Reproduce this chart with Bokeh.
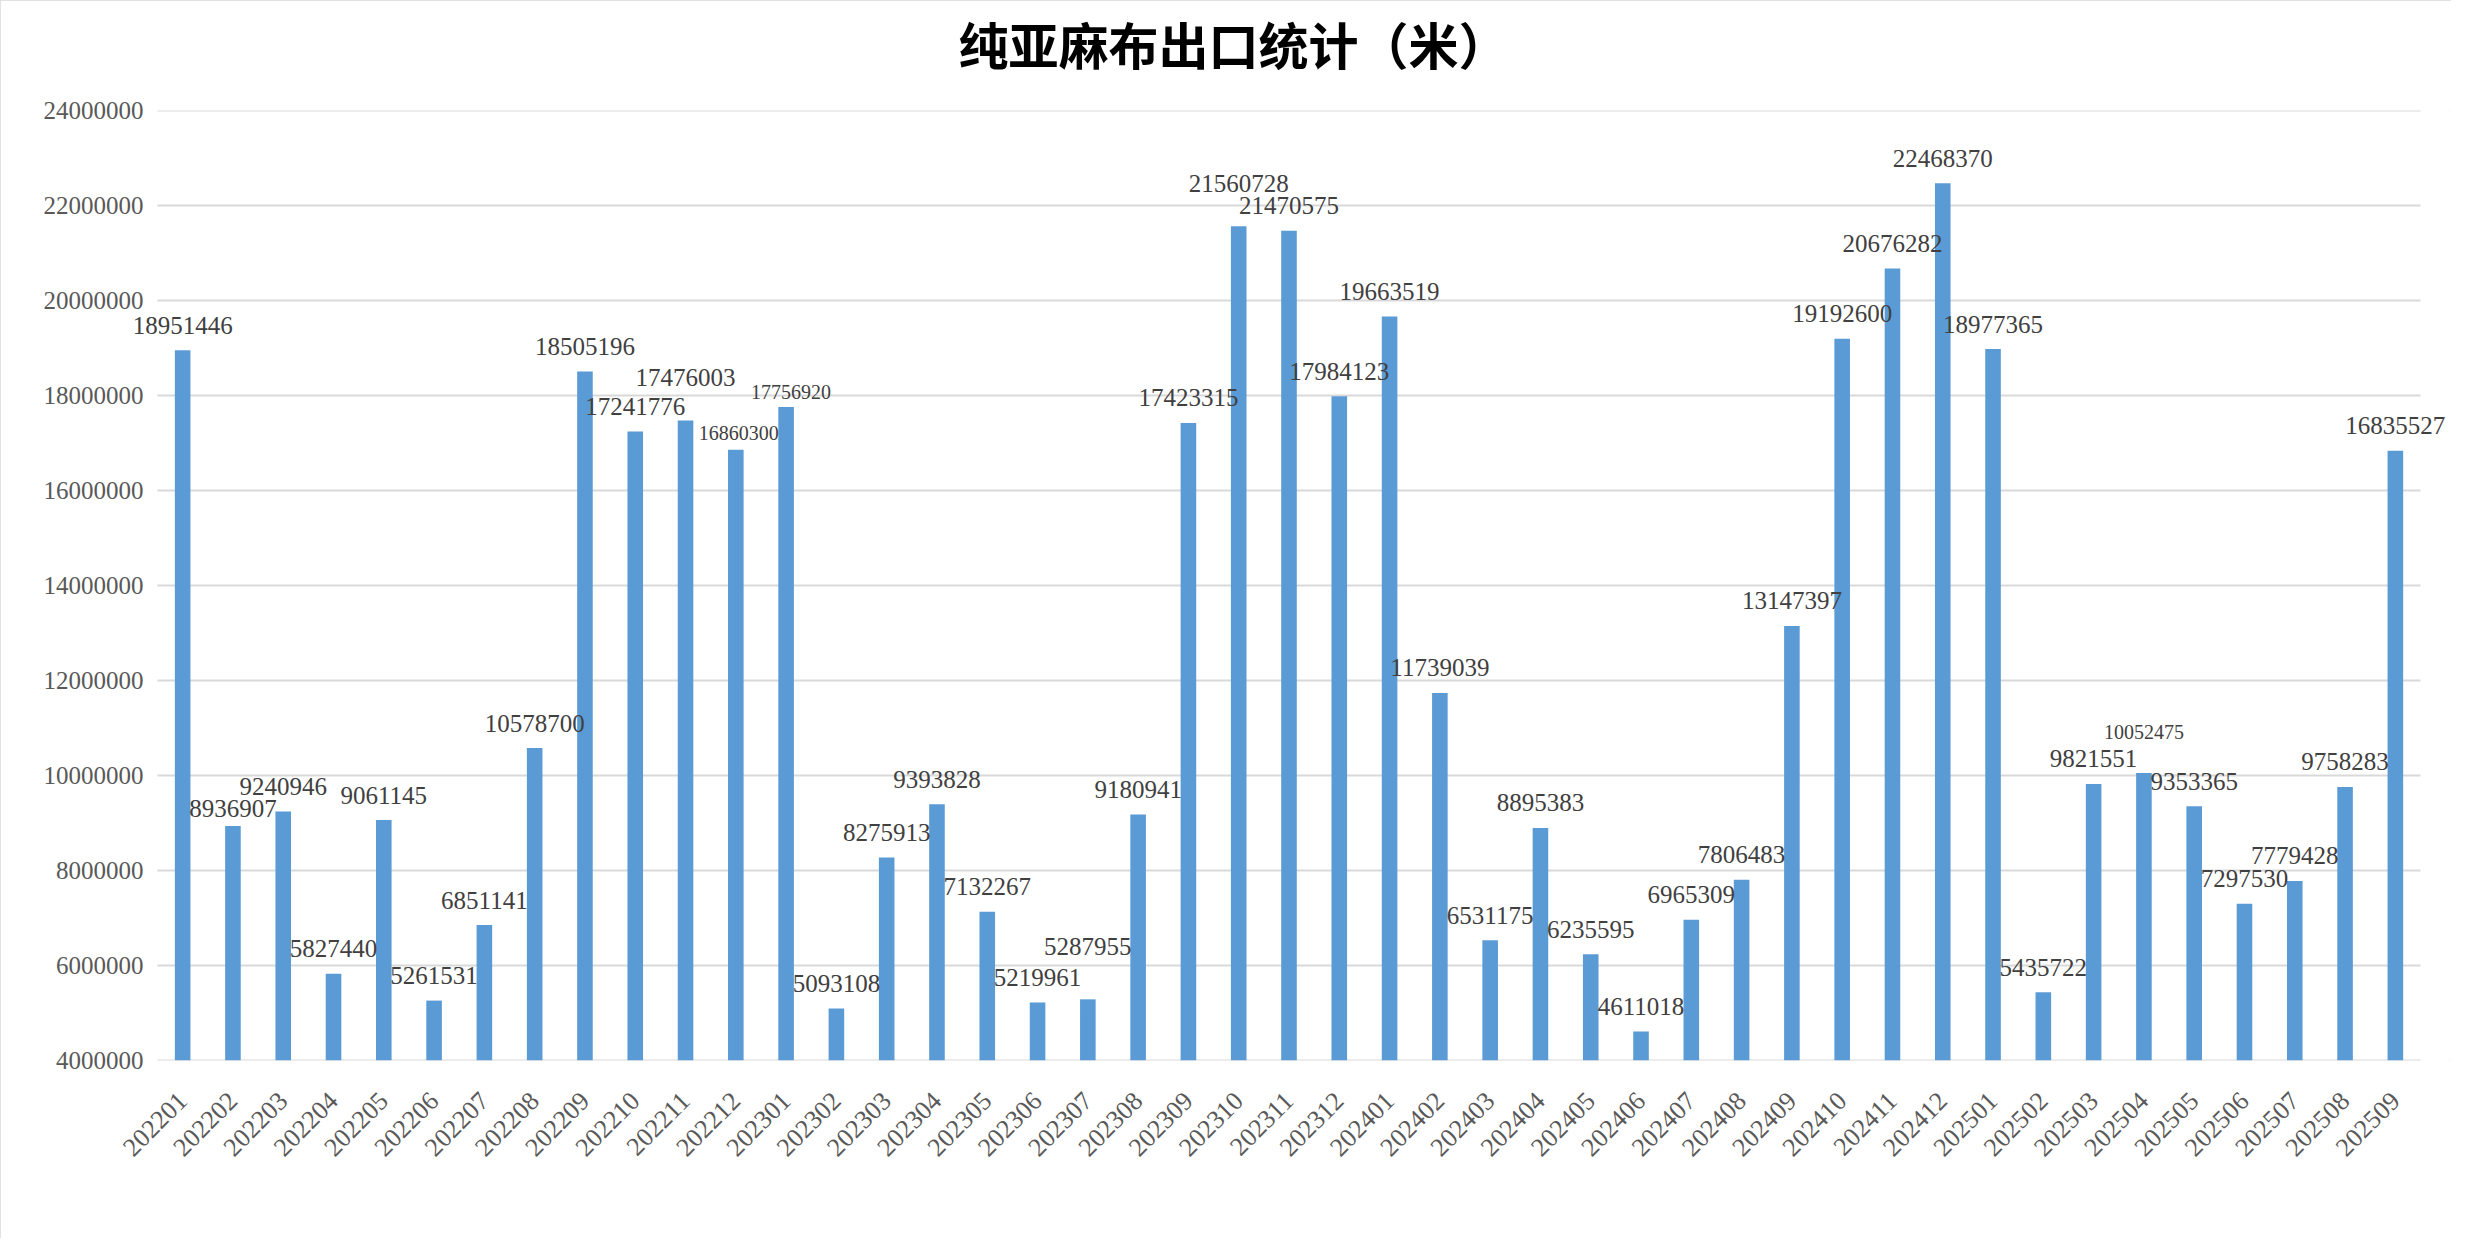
import math
from bokeh.plotting import figure
from bokeh.models import (ColumnDataSource, Range1d, FactorRange, FixedTicker,
                          NumeralTickFormatter, Title)
from bokeh.core.properties import value
from bokeh.embed import file_html
from bokeh.resources import INLINE

# ---------------- data ----------------
title_text = "纯亚麻布出口统计（米）"

months = [
    "202201", "202202", "202203", "202204", "202205", "202206", "202207", "202208",
    "202209", "202210", "202211", "202212", "202301", "202302", "202303", "202304",
    "202305", "202306", "202307", "202308", "202309", "202310", "202311", "202312",
    "202401", "202402", "202403", "202404", "202405", "202406", "202407", "202408",
    "202409", "202410", "202411", "202412", "202501", "202502", "202503", "202504",
    "202505", "202506", "202507", "202508", "202509",
]

exports_m = [
    18951446, 8936907, 9240946, 5827440, 9061145, 5261531, 6851141, 10578700,
    18505196, 17241776, 17476003, 16860300, 17756920, 5093108, 8275913, 9393828,
    7132267, 5219961, 5287955, 9180941, 17423315, 21560728, 21470575, 17984123,
    19663519, 11739039, 6531175, 8895383, 6235595, 4611018, 6965309, 7806483,
    13147397, 19192600, 20676282, 22468370, 18977365, 5435722, 9821551, 10052475,
    9353365, 7297530, 7779428, 9758283, 16835527,
]

y_ticks = [4000000, 6000000, 8000000, 10000000, 12000000, 14000000,
           16000000, 18000000, 20000000, 22000000, 24000000]

# ---------------- label styling (screen-pixel nudges: dx right, dy up) ----------------
label_base_up = 25
label_nudge = {1: (0, -8), 10: (0, 18), 11: (3, -8), 12: (5, -10),
               18: (0, 28), 21: (0, 18), 39: (0, 16)}
small_label_idx = {11, 12, 39}

xo, yo, sizes = [], [], []
for i in range(len(months)):
    dx, dy = label_nudge.get(i, (0, 0))
    xo.append(dx)
    yo.append(-(label_base_up + dy))          # glyph offsets: positive = down
    sizes.append("20px" if i in small_label_idx else "25px")

src = ColumnDataSource(dict(
    month=months, value=exports_m, label=[str(v) for v in exports_m],
    xo=xo, yo=yo, size=sizes,
))

# ---------------- layout ----------------
W, H = 2451, 1238
CAT_L, CAT_R = 157, 2420          # pixel span of the 45 categories (gridline extent)
FRAME_T, FRAME_B = 110, 1060
PAD = 31                          # frame extends beyond the categories so labels are not clipped
FRAME_L, FRAME_R = CAT_L - PAD, CAT_R + PAD
unit_px = (CAT_R - CAT_L) / len(months)

x_range = FactorRange(factors=months, range_padding=PAD / unit_px,
                      range_padding_units="absolute")

p = figure(
    x_range=x_range,
    y_range=Range1d(y_ticks[0], y_ticks[-1]),
    width=W, height=H,
    output_backend="svg",
    toolbar_location=None,
    min_border_left=FRAME_L, min_border_right=W - FRAME_R,
    min_border_top=FRAME_T, min_border_bottom=H - FRAME_B,
)
p.outline_line_color = None
p.background_fill_color = "white"
p.border_fill_color = "white"
p.styles = {"outline": "2px solid #D9D9D9", "outline-offset": "-2px"}

# title: spacer panel next to the frame, real title above it
p.title.text = ""
p.add_layout(Title(text=" ", text_font_size="10px", text_font="Liberation Serif",
                   standoff=19), "above")
p.add_layout(Title(text=title_text, align="left", offset=958 - FRAME_L,
                   text_font_size="50px", text_font="Noto Sans CJK SC",
                   text_font_style="bold", text_color="#000000", standoff=0), "above")

# horizontal gridlines spanning only the category area
p.xgrid.visible = False
p.ygrid.visible = False
p.segment(x0=0, x1=len(months), y0=y_ticks, y1=y_ticks,
          line_color="#D9D9D9", line_width=2)

p.vbar(x="month", top="value", bottom=y_ticks[0], width=0.31,
       fill_color="#5B9BD5", line_color=None, source=src)

p.text(x="month", y="value", text="label", x_offset="xo", y_offset="yo",
       text_font_size="size", text_font=value("Liberation Serif"),
       text_align="center", text_baseline="middle", text_color="#404040",
       source=src)

# y axis (labels pulled in next to the gridlines' start)
p.yaxis.ticker = FixedTicker(ticks=y_ticks)
p.yaxis.formatter = NumeralTickFormatter(format="0")
p.yaxis.axis_line_color = None
p.yaxis.major_tick_line_color = None
p.yaxis.minor_tick_line_color = None
p.yaxis.major_label_text_font = "Liberation Serif"
p.yaxis.major_label_text_font_size = "25px"
p.yaxis.major_label_text_color = "#595959"
p.yaxis.major_label_standoff = -(PAD - 8)

# x axis
p.xaxis.axis_line_color = None
p.xaxis.major_tick_line_color = None
p.xaxis.minor_tick_line_color = None
p.xaxis.major_label_orientation = math.pi / 4
p.xaxis.major_label_text_font = "Liberation Serif"
p.xaxis.major_label_text_font_size = "26px"
p.xaxis.major_label_text_color = "#595959"
p.xaxis.major_label_standoff = 30

open("out.html", "w").write(file_html(p, INLINE))
